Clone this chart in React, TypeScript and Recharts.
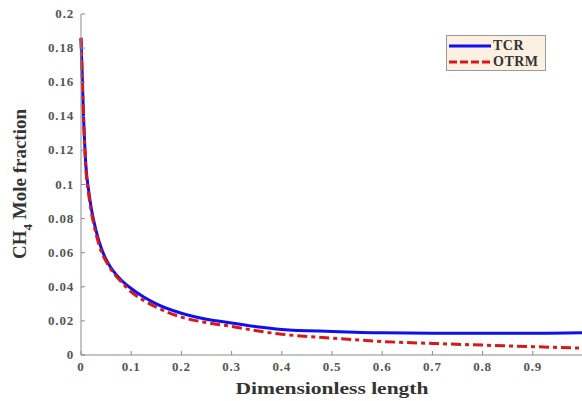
import React from "react";
import { LineChart, Line, XAxis, YAxis } from "recharts";

const lengthPts = [0, 0.005, 0.01, 0.015, 0.02, 0.03, 0.04, 0.05, 0.06, 0.08, 0.1, 0.125, 0.15, 0.2, 0.25, 0.3, 0.35, 0.4, 0.5, 0.6, 0.7, 0.8, 0.9, 1.0];
const tcr = [0.186, 0.14, 0.11, 0.097, 0.087, 0.073, 0.063, 0.056, 0.051, 0.044, 0.039, 0.034, 0.030, 0.0245, 0.021, 0.0188, 0.0166, 0.015, 0.0138, 0.013, 0.0128, 0.0127, 0.0127, 0.013];
const otrm = [0.186, 0.14, 0.108, 0.095, 0.085, 0.071, 0.061, 0.055, 0.05, 0.043, 0.037, 0.032, 0.028, 0.0222, 0.019, 0.0168, 0.0142, 0.0122, 0.0099, 0.0079, 0.0068, 0.0058, 0.0049, 0.004];
const xTicks = [0, 0.1, 0.2, 0.3, 0.4, 0.5, 0.6, 0.7, 0.8, 0.9, 1];
const yTicks = [0, 0.02, 0.04, 0.06, 0.08, 0.1, 0.12, 0.14, 0.16, 0.18, 0.2];

const data = lengthPts.map((x, i) => ({ x, tcr: tcr[i], otrm: otrm[i] }));

const FONT = "'Liberation Serif', 'Times New Roman', serif";
const AXIS = "#8a8a8a";

const fmt = (v: number) => (v === 0 ? "0" : v === 1 ? "" : String(v));

// serif tick labels, bottom axis
function XTick(props: any) {
  const { x, y, payload } = props;
  return (
    <text x={x} y={y + 6} textAnchor="middle" fontFamily={FONT} fontSize={13} fontWeight={700} fill="#555" letterSpacing={0.8}>
      {fmt(payload.value)}
    </text>
  );
}

function YTick(props: any) {
  const { x, y, payload } = props;
  return (
    <text x={x} y={y + 4} textAnchor="end" fontFamily={FONT} fontSize={13} fontWeight={700} fill="#555" letterSpacing={0.8}>
      {fmt(payload.value)}
    </text>
  );
}

function YLabel() {
  return (
    <text
      x={0}
      y={0}
      transform="translate(26,184) rotate(-90)"
      textAnchor="middle"
      fontFamily={FONT}
      fontWeight={700}
      fontSize={19}
      fill="#333"
    >
      CH<tspan fontSize={13} dy={6}>4</tspan>
      <tspan dy={-6}> Mole fraction</tspan>
    </text>
  );
}

function XLabel() {
  return (
    <text
      x={332}
      y={394}
      textAnchor="middle"
      fontFamily={FONT}
      fontWeight={700}
      fontSize={17}
      fill="#333"
      textLength={193}
      lengthAdjust="spacingAndGlyphs"
    >
      Dimensionless length
    </text>
  );
}

function LegendBox() {
  const row = (label: string, color: string, dash?: string) => (
    <div style={{ display: "flex", alignItems: "center", height: 16 }}>
      <svg width={44} height={8}>
        <line x1={2} y1={4} x2={44} y2={4} stroke={color} strokeWidth={3} strokeDasharray={dash} />
      </svg>
      <span style={{ fontFamily: FONT, fontWeight: 700, fontSize: 14, color: "#333", marginLeft: 2, letterSpacing: 0.5 }}>
        {label}
      </span>
    </div>
  );
  return (
    <div
      style={{
        position: "absolute",
        left: 446,
        top: 35,
        width: 100,
        height: 36,
        boxSizing: "border-box",
        background: "#fcf0e2",
        border: "1px solid #999",
        paddingTop: 2,
      }}
    >
      {row("TCR", "#1010ee")}
      {row("OTRM", "#d81818", "8 3")}
    </div>
  );
}

export default function App() {
  return (
    <div style={{ position: "absolute", left: 0, top: 0, width: 582, height: 401, overflow: "hidden", background: "#fff" }}>
      <LineChart
        width={600}
        height={401}
        data={data}
        margin={{ top: 14, right: 17, bottom: 16, left: 0 }}
        style={{ fontFamily: FONT }}
      >
        <XAxis
          dataKey="x"
          type="number"
          domain={[0, 1]}
          ticks={xTicks}
          height={30}
          stroke={AXIS}
          tickSize={-4}
          tickMargin={14}
          tick={<XTick />}
          interval={0}
        />
        <XAxis
          xAxisId="top"
          dataKey="x"
          type="number"
          orientation="top"
          domain={[0, 1]}
          ticks={xTicks}
          tickFormatter={() => ""}
          height={0}
          stroke={AXIS}
          tickSize={-4}
        />
        <YAxis
          type="number"
          domain={[0, 0.2]}
          ticks={yTicks}
          width={81}
          stroke={AXIS}
          tickSize={-4}
          tickMargin={11}
          tick={<YTick />}
          interval={0}
        />
        <Line type="monotone" dataKey="tcr" stroke="#1010ee" strokeWidth={3} dot={false} isAnimationActive={false} />
        <Line type="monotone" dataKey="otrm" stroke="#d81818" strokeWidth={3} strokeDasharray="10 4 4 4" dot={false} isAnimationActive={false} />
        <YLabel />
        <XLabel />
      </LineChart>
      <LegendBox />
    </div>
  );
}
